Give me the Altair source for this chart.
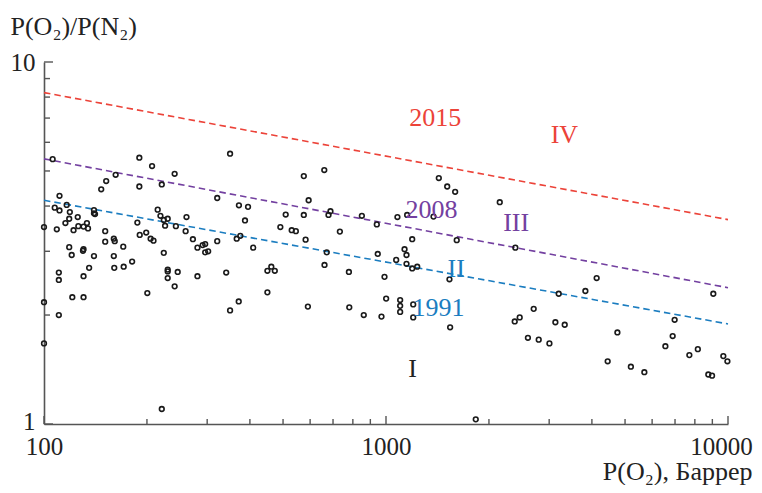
import altair as alt
import pandas as pd

# O2 permeability (Barrer) and O2/N2 selectivity of polymers
perm_o2 = [
    106, 190, 207, 350, 241, 162, 152, 147, 190, 221, 111, 321, 107.5, 111, 116.5, 119,
    118.5, 115.5, 109, 100, 122, 125.5, 126, 130.5, 133.5, 134.5, 140, 141, 140, 215, 219,
    224, 230, 226, 243, 261, 259.5, 187.5, 190.5, 199, 205, 209, 151, 151, 160, 161, 118.5,
    120.5, 130, 130.5, 140, 160, 170.5, 224, 272.5, 281, 291, 296, 296, 302, 321, 366, 375,
    371.5, 395, 387, 409, 135.5, 160.5, 171, 181, 110.5, 130.5, 230, 230, 246, 281, 341, 450,
    110.5, 230, 241, 450, 100, 121, 130.5, 200.5, 110.5, 100, 350, 371, 221,
    660, 575, 594, 509, 575, 688, 679, 491, 530, 545, 582, 733, 850, 940, 1080, 1153, 1377,
    1427, 1510, 1593, 1610, 1193, 1133, 1148, 1071, 946, 671, 661, 1148, 1193, 1234, 779,
    990, 462, 473, 1533, 591, 781, 861, 970, 1001, 1100, 1100, 1100, 1201, 1201, 1540, 1830,
    2151, 2389, 4130, 3828, 3199, 2703, 2379, 2460, 3128, 3331, 2600, 2796, 3005, 4749, 4448,
    5200, 5694, 6560, 6890, 6982, 7709, 8162, 8759, 8982, 9058, 9690, 9960,
]
selectivity = [
    5.39, 5.44, 5.16, 5.58, 4.91, 4.88, 4.69, 4.45, 4.53, 4.59, 4.27, 4.21, 3.96, 3.89, 4.03, 3.85,
    3.69, 3.59, 3.45, 3.50, 3.43, 3.73, 3.52, 3.51, 3.59, 3.47, 3.90, 3.80, 3.82, 3.91, 3.76,
    3.66, 3.69, 3.53, 3.52, 3.73, 3.41, 3.60, 3.33, 3.38, 3.25, 3.21, 3.41, 3.19, 3.25, 3.20, 3.08,
    2.93, 3.01, 3.04, 2.91, 2.91, 3.09, 2.97, 3.24, 3.07, 3.12, 3.14, 2.98, 3.00, 3.20, 3.25, 3.31,
    4.02, 3.98, 3.65, 3.07, 2.70, 2.70, 2.72, 2.81, 2.62, 2.56, 2.67, 2.64, 2.63, 2.56, 2.62, 2.65,
    2.50, 2.53, 2.40, 2.31, 2.17, 2.24, 2.24, 2.30, 2.00, 1.67, 2.06, 2.18, 1.10,
    5.03, 4.84, 4.15, 3.79, 3.78, 3.87, 3.78, 3.50, 3.43, 3.41, 3.23, 3.40, 3.76, 3.56, 3.73, 3.78, 3.74,
    4.78, 4.53, 4.38, 3.22, 3.24, 3.04, 2.93, 2.84, 2.95, 2.98, 2.75, 2.77, 2.69, 2.72, 2.63,
    2.55, 2.72, 2.65, 2.51, 2.11, 2.10, 2.00, 1.98, 2.22, 2.20, 2.12, 2.04, 2.14, 1.97, 1.85, 1.03,
    4.10, 3.07, 2.53, 2.33, 2.29, 2.08, 1.92, 1.97, 1.91, 1.88, 1.73, 1.71, 1.67, 1.79, 1.49,
    1.44, 1.39, 1.64, 1.75, 1.94, 1.55, 1.61, 1.37, 1.36, 2.29, 1.54, 1.49,
]

# Robeson upper bounds (end points at P = 100 and 10000 Barrer)
bound_years = ["2015", "2008", "1991"]
bound_x = [100, 10000]
bound_y_2015 = [8.23, 3.67]
bound_y_2008 = [5.40, 2.38]
bound_y_1991 = [4.15, 1.89]

# text annotations
label_text = ["2015", "IV", "2008", "III", "II", "1991", "I"]
label_group = ["2015", "2015", "2008", "2008", "1991", "1991", "none"]
label_x = [1393, 3324, 1358, 2402, 1604, 1424, 1196]
label_y = [7.01, 6.29, 3.90, 3.60, 2.68, 2.09, 1.42]

# axis ticks
major_x_ticks = [100, 1000, 10000]
minor_x_ticks = [200, 300, 400, 500, 600, 700, 800, 900,
                 2000, 3000, 4000, 5000, 6000, 7000, 8000, 9000]
major_y_ticks = [1, 10]
minor_y_ticks = [2, 3, 4, 5, 6, 7, 8, 9]

W, H = 684, 362
FONT = "Liberation Serif"
AX = "#555555"
TXT = "#222222"

color_scale = alt.Scale(domain=["2015", "2008", "1991", "none"],
                        range=["#ec4339", "#7340a0", "#1b7dc0", "#222222"])

x_scale = alt.Scale(type="log", domain=[100, 10000], nice=False)
y_scale = alt.Scale(type="log", domain=[1, 10], nice=False)

x_axis = alt.Axis(values=major_x_ticks, format="d", ticks=False, tickSize=0,
                  labelFlush=False, labelOverlap=False, labelPadding=10,
                  labelOffset={"condition": {"test": "datum.value >= 10000", "value": -7},
                               "value": 0},
                  grid=False, title="P(O₂), Баррер",
                  titleAlign="right", titleX=708, titleY=55,
                  titleBaseline="alphabetic", titleAnchor="start")
y_axis = alt.Axis(values=major_y_ticks, format="d", ticks=False, tickSize=0,
                  labelFlush=False, labelOverlap=False, labelPadding=9,
                  labelOffset={"condition": {"test": "datum.value <= 1", "value": -3},
                               "value": 0},
                  grid=False, title="P(O₂)/P(N₂)", titleAngle=0,
                  titleAlign="left", titleX=-34, titleY=-28,
                  titleBaseline="alphabetic", titleAnchor="start")

pts = pd.DataFrame({"x": perm_o2, "y": selectivity})
lines = pd.DataFrame({
    "year": [y for y in bound_years for _ in bound_x],
    "x": bound_x * 3,
    "y": bound_y_2015 + bound_y_2008 + bound_y_1991,
})
labels = pd.DataFrame({"t": label_text, "g": label_group, "x": label_x, "y": label_y})

X = alt.X("x:Q", scale=x_scale, axis=x_axis)
Y = alt.Y("y:Q", scale=y_scale, axis=y_axis)

line_layer = alt.Chart(lines).mark_line(strokeDash=[6.5, 4], strokeWidth=1.6).encode(
    x=X, y=Y, color=alt.Color("year:N", scale=color_scale, legend=None), detail="year:N"
)

point_layer = alt.Chart(pts).mark_point(
    shape="circle", filled=False, size=22, strokeWidth=1.6, color="#1a1a1a", opacity=1
).encode(x=X, y=Y)

text_layer = alt.Chart(labels).mark_text(
    font=FONT, fontSize=26, align="center", baseline="middle"
).encode(x=X, y=Y, text="t:N",
         color=alt.Color("g:N", scale=color_scale, legend=None))

xt_major = alt.Chart(pd.DataFrame({"x": major_x_ticks})).mark_rule(
    color=AX, strokeWidth=1.4).encode(x=X, y=alt.value(H), y2=alt.value(H - 8))
xt_minor = alt.Chart(pd.DataFrame({"x": minor_x_ticks})).mark_rule(
    color=AX, strokeWidth=1.4).encode(x=X, y=alt.value(H), y2=alt.value(H - 5))
yt_major = alt.Chart(pd.DataFrame({"y": major_y_ticks})).mark_rule(
    color=AX, strokeWidth=1.4).encode(y=Y, x=alt.value(0), x2=alt.value(9))
yt_minor = alt.Chart(pd.DataFrame({"y": minor_y_ticks})).mark_rule(
    color=AX, strokeWidth=1.4).encode(y=Y, x=alt.value(0), x2=alt.value(6))

chart = alt.layer(
    xt_major, xt_minor, yt_major, yt_minor, line_layer, point_layer, text_layer
).properties(
    width=W, height=H,
    autosize=alt.AutoSizeParams(type="none"),
    padding={"left": 36, "top": 54, "right": 26, "bottom": 61},
).configure_view(stroke=None).configure_axis(
    domainColor=AX, domainWidth=1.6, labelFont=FONT, labelFontSize=25, labelColor=TXT,
    titleFont=FONT, titleFontSize=26, titleFontWeight="normal", titleColor=TXT,
)

chart.save("out.html", embed_options={"renderer": "svg", "actions": False})
